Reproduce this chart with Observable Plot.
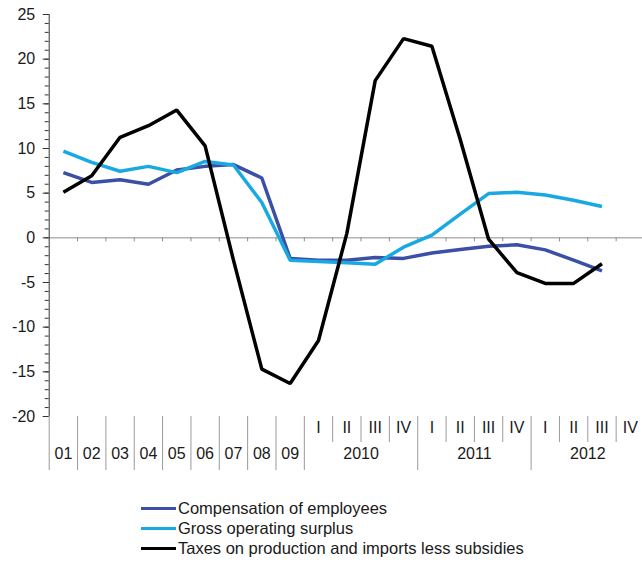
<!DOCTYPE html>
<html><head><meta charset="utf-8">
<script src="https://cdn.jsdelivr.net/npm/d3@7"></script>
<script src="https://cdn.jsdelivr.net/npm/@observablehq/plot@0.6"></script>
<style>
body{margin:0;background:#fff;font-family:"Liberation Sans",Arial,sans-serif;}
#chart svg{display:block;}
#legend{padding-top:18px;margin-left:141px;color:#1a1a1a;font-size:16.5px;}
.row{display:flex;align-items:center;height:20px;}
.sw{display:inline-block;width:35px;height:3px;margin-right:2px;}
</style></head><body>
<div id="chart"></div><div id="legend"></div>
<script>
const categories = ["01","02","03","04","05","06","07","08","09",
  "2010 I","2010 II","2010 III","2010 IV",
  "2011 I","2011 II","2011 III","2011 IV",
  "2012 I","2012 II","2012 III","2012 IV"];
const categoryLabels = ["01","02","03","04","05","06","07","08","09",
  "I","II","III","IV","I","II","III","IV","I","II","III","IV"];
const years = ["2010","2011","2012"];
const yTicks = [-20,-15,-10,-5,0,5,10,15,20,25];
const seriesNames = ["Compensation of employees","Gross operating surplus","Taxes on production and imports less subsidies"];
const seriesColors = ["#3a4fa5","#19a9e2","#000000"];
const compensation = [7.3,6.2,6.5,6.0,7.6,8.0,8.2,6.7,-2.3,-2.5,-2.5,-2.2,-2.3,-1.7,-1.3,-0.95,-0.78,-1.35,-2.5,-3.7];
const surplus = [9.7,8.45,7.45,8.0,7.3,8.55,8.15,3.95,-2.5,-2.65,-2.8,-2.95,-1.05,0.3,2.65,4.95,5.1,4.8,4.2,3.5];
const taxes = [5.1,6.95,11.25,12.55,14.3,10.3,-2.5,-14.7,-16.3,-11.5,0.5,17.6,22.3,21.45,11.0,-0.15,-3.9,-5.1,-5.1,-2.9];

const rows = [];
[compensation, surplus, taxes].forEach((vals, s) =>
  vals.forEach((v, i) => rows.push({category: categories[i], value: v, series: seriesNames[s]})));

const W = 642, H = 480;
const x0 = 48.7, x1 = 644;
const bw = (x1 - x0) / categories.length;
const half = -bw / 2;
const annual = categories.slice(0, 9);
const quarterly = categories.slice(9);
const quarterLabels = categoryLabels.slice(9);
const yearStarts = quarterly.filter((c, i) => i % 4 === 0);
const quarterInner = quarterly.filter((c, i) => i % 4 !== 0);
const yearMids = quarterly.filter((c, i) => i % 4 === 2);
const longEdges = annual.concat(yearStarts);

const plot = Plot.plot({
  width: W, height: H,
  marginTop: 14, marginBottom: 10, marginLeft: x0, marginRight: 0,
  style: {fontFamily: "'Liberation Sans', Arial, sans-serif", fontSize: "16px", color: "#1a1a1a", background: "#fff"},
  x: {type: "band", domain: categories, range: [x0, x1], padding: 0, round: false, axis: null},
  y: {domain: [-20, 25], range: [416, 14], axis: null},
  color: {domain: seriesNames, range: seriesColors},
  marks: [
    Plot.ruleY([0], {stroke: "#8c8c8c", strokeWidth: 1}),
    Plot.ruleX(categories.slice(1), {x: d => d, dx: half, y1: 0, y2: 0, insetBottom: -4, stroke: "#8c8c8c"}),
    Plot.axisY(d3.range(-20, 26), {tickSize: 4, fill: "none", stroke: "#333"}),
    Plot.axisY(yTicks, {tickSize: 6, tickPadding: 8, tickFormat: d => String(d), fontSize: 16, stroke: "#333", fill: "#1a1a1a", label: null}),
    Plot.ruleX([categories[0]], {x: d => d, dx: half, y1: 25, y2: -20, stroke: "#333"}),
    Plot.ruleX(longEdges, {x: d => d, dx: half, y1: -20, y2: -20, insetBottom: -54, stroke: "#9a9a9a"}),
    Plot.ruleX(quarterInner, {x: d => d, dx: half, y1: -20, y2: -20, insetBottom: -26, stroke: "#9a9a9a"}),
    Plot.text(annual, {x: d => d, text: (d, i) => categoryLabels[i], frameAnchor: "bottom", dy: -12, fill: "#1a1a1a"}),
    Plot.text(quarterly, {x: d => d, text: (d, i) => quarterLabels[i], frameAnchor: "bottom", dy: -38, fill: "#1a1a1a"}),
    Plot.text(yearMids, {x: d => d, text: (d, i) => years[i], dx: half, frameAnchor: "bottom", dy: -12, fill: "#1a1a1a"}),
    Plot.line(rows, {x: "category", y: "value", z: "series", stroke: "series", strokeWidth: 3.5, strokeLinejoin: "miter", strokeLinecap: "butt"})
  ]
});
document.getElementById("chart").appendChild(plot);

const legend = d3.select("#legend");
seriesNames.forEach((n, i) => {
  const r = legend.append("div").attr("class", "row");
  r.append("span").attr("class", "sw").style("background", seriesColors[i]);
  r.append("span").text(n);
});
</script>
</body></html>
